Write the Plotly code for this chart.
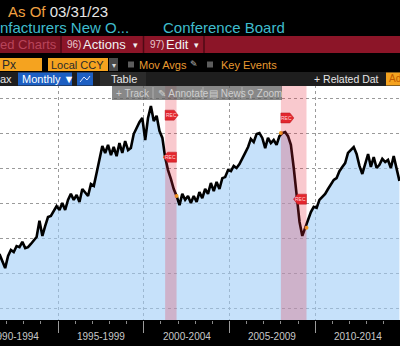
import plotly.graph_objects as go
import pandas as pd

# ---------------- data ----------------
start_month = '1991-08-01'   # bi-monthly observations
values = [
    115.4, 113.1, 111.4, 114.9, 116.6, 116.0, 117.7, 117.4, 118.9, 117.1,
    117.4, 118.3, 119.4, 120.3, 124.9, 120.6, 123.4, 126.0, 126.3, 127.7,
    129.1, 128.0, 130.0, 128.0, 130.9, 132.6, 130.9, 132.3, 130.3, 134.0,
    133.1, 132.0, 135.4, 134.9, 138.6, 142.3, 146.3, 144.3, 146.6, 143.7,
    146.0, 143.4, 147.1, 144.3, 147.7, 145.1, 145.7, 149.7, 151.4, 153.1,
    154.3, 148.0, 154.3, 157.7, 153.4, 154.9, 150.6, 148.6, 143.1, 139.4,
    136.9, 134.0, 132.0, 129.4, 132.6, 130.9, 132.0, 130.0, 132.0, 130.3,
    133.1, 131.4, 134.0, 132.6, 135.7, 133.4, 136.0, 134.0, 137.1, 137.4,
    139.4, 139.1, 140.6, 140.0, 141.1, 142.9, 144.3, 146.0, 148.3, 147.4,
    149.7, 150.0, 148.6, 145.7, 148.6, 147.1, 148.0, 146.6, 149.1, 150.0,
    150.3, 149.1, 146.6, 140.0, 132.0, 124.6, 120.6, 122.9, 125.7, 127.4,
    128.9, 128.6, 130.9, 131.7, 132.6, 134.0, 135.4, 136.6, 137.1, 139.1,
    140.3, 141.4, 144.3, 145.1, 146.0, 144.0, 140.6, 138.3, 141.1, 144.0,
    140.3, 143.1, 140.0, 140.9, 142.6, 141.7, 142.3, 140.0, 143.4, 139.4,
    136.3,
]
rec_start = ['2001-04-01', '2008-01-01']
rec_end = ['2001-11-30', '2009-06-30']
flag_top_levels = [155.1, 154.3]
flag_low_levels = [143.1, 131.1]

period_labels = ['1990-1994', '1995-1999', '2000-2004', '2005-2009', '2010-2014']
period_mid = ['1992-07-02', '1997-07-02', '2002-07-02', '2007-07-02', '2012-07-02']

x_range = ['1991-08-13', '2014-12-13']
y_range = [96.571, 163.714]

dates = pd.date_range(start=start_month, periods=len(values), freq='2MS')
series = pd.Series(values, index=dates)

# ---------------- layout helpers ----------------
W, H = 400, 346
T, B = 85, 26


def PX(x):
    return x / W


def PY(y):
    return (H - B - y) / (H - T - B)


FONT = 'Liberation Sans, Arial, sans-serif'

fig = go.Figure()

fig.add_trace(go.Scatter(
    x=dates, y=values, mode='lines',
    line=dict(color='#000000', width=2.6),
    fill='tozeroy', fillcolor='rgba(160,205,247,0.6)',
    hoverinfo='skip', showlegend=False,
))

# orange dots at recession boundaries
pts = pd.to_datetime(rec_start + rec_end)
near = series.reindex(pts, method='nearest')
fig.add_trace(go.Scatter(
    x=pts, y=near.values, mode='markers',
    marker=dict(color='#f0a020', size=4),
    hoverinfo='skip', showlegend=False,
))

shapes = []
ann = []

# recession shading
for s, e in zip(rec_start, rec_end):
    shapes.append(dict(type='rect', xref='x', yref='paper', x0=s, x1=e, y0=0, y1=1,
                       fillcolor='rgba(230,40,60,0.25)', line=dict(width=0), layer='above'))

# REC flags
for d, lv in zip(rec_start, flag_top_levels):
    shapes.append(dict(type='path', xref='x', yref='y', xsizemode='pixel', ysizemode='pixel',
                       xanchor=d, yanchor=lv, path='M0,-5 L9,-5 L13,0 L9,5 L0,5 Z',
                       fillcolor='#e3262e', line=dict(color='#b51a22', width=0.5), layer='above'))
    ann.append(dict(x=d, y=lv, xref='x', yref='y', text='REC', showarrow=False, xshift=6,
                    font=dict(size=5, color='#ffd6d6', family=FONT)))
for d, lv in zip(rec_end, flag_low_levels):
    shapes.append(dict(type='path', xref='x', yref='y', xsizemode='pixel', ysizemode='pixel',
                       xanchor=d, yanchor=lv, path='M0,-5 L-9,-5 L-13,0 L-9,5 L0,5 Z',
                       fillcolor='#e3262e', line=dict(color='#b51a22', width=0.5), layer='above'))
    ann.append(dict(x=d, y=lv, xref='x', yref='y', text='REC', showarrow=False, xshift=-6,
                    font=dict(size=5, color='#ffd6d6', family=FONT)))


def rect(x0, y0, x1, y1, color, line=None):
    shapes.append(dict(type='rect', xref='paper', yref='paper',
                       x0=PX(x0), x1=PX(x1), y0=PY(y1), y1=PY(y0),
                       fillcolor=color, line=line or dict(width=0), layer='above'))


def vline(x, y0, y1, color, width=1):
    shapes.append(dict(type='line', xref='paper', yref='paper',
                       x0=PX(x), x1=PX(x), y0=PY(y1), y1=PY(y0),
                       line=dict(color=color, width=width), layer='above'))


def text(x, y, s, size, color, family=FONT, anchor='left'):
    ann.append(dict(x=PX(x), y=PY(y), xref='paper', yref='paper', text=s, showarrow=False,
                    xanchor=anchor, yanchor='middle', borderpad=0,
                    font=dict(size=size, color=color, family=family)))


# row 1 / row 2
text(7, 11, '<span style="color:#f0a040">As Of</span> 03/31/23', 15, '#e6e6e6')
text(-1, 28, 'nfacturers New O...', 15, '#3fbccd')
text(162, 28, 'Conference Board', 15, '#3fbccd')

# row 3 red bar
rect(0, 36, 400, 53, '#8c1528')
rect(0, 36, 60, 53, '#7e1424')
text(-1, 44.5, 'ed Charts', 13, '#b9445a')
vline(61, 36, 53, '#4e0a14', 1.5)
text(66, 44.5, '96)', 10, '#e8c8cc')
text(82, 44.5, 'Actions', 13, '#f2f2f2')
text(132, 45, '▾', 9, '#f2f2f2')
vline(143.5, 36, 53, '#4e0a14', 1.5)
text(149, 44.5, '97)', 10, '#e8c8cc')
text(165, 44.5, 'Edit', 13, '#f2f2f2')
text(193, 45, '▾', 9, '#f2f2f2')
vline(204, 36, 53, '#4e0a14', 1.5)

# row 4
rect(0, 58, 42, 71, '#f5a31f')
text(1, 64.5, 'Px', 12, '#2a2a2a')
rect(48, 58, 108, 71, '#f5a31f')
text(50, 64.5, 'Local CCY', 11, '#2a2a2a')
rect(109, 58, 118, 71, '#4a4a4a')
text(110.5, 65, '▾', 8, '#dddddd')
rect(128, 61.5, 134, 67.5, '#5c5c5c')
text(138, 64.5, 'Mov Avgs', 11, '#e89a30')
text(189, 64, '✎', 9, '#bbbbbb', family='DejaVu Sans')
rect(207, 61.5, 213, 67.5, '#5c5c5c')
text(220, 64.5, 'Key Events', 11, '#e89a30')

# row 5
rect(0, 72, 400, 86, '#1e1e1e')
rect(100, 72, 146, 86, '#2b2b2b')
text(-1, 79, 'ax', 11, '#e6e6e6')
rect(18, 72.5, 72, 85.5, '#1d5fc2')
text(21, 79, 'Monthly ▼', 11, '#ffffff')
rect(77, 72.5, 93, 85.5, '#1d5fc2')
shapes.append(dict(type='path', xref='paper', yref='paper', layer='above',
                   path='M {:.4f},{:.4f} L {:.4f},{:.4f} L {:.4f},{:.4f} L {:.4f},{:.4f}'.format(
                       PX(80), PY(82), PX(84), PY(77), PX(87), PY(80), PX(90), PY(76)),
                   line=dict(color='#dfe8ff', width=1)))
text(110, 79, 'Table', 11, '#e6e6e6')
text(313, 79, '+ Related Dat', 10.5, '#e6e6e6')
rect(386, 72.5, 400, 85.5, '#f5a31f')
text(388, 79, 'Ad', 10, '#c05a00')

# overlay toolbar inside the plot
rect(112, 86, 282, 100, 'rgba(90,90,90,0.72)')
text(115, 93, '+ Track', 10, '#cfcfcf')
vline(153, 87, 99, 'rgba(200,200,200,0.6)')
text(157, 93, '✎ Annotate', 10, '#cfcfcf')
vline(203, 87, 99, 'rgba(200,200,200,0.6)')
text(208, 93, '▤ News', 10, '#cfcfcf')
vline(242, 87, 99, 'rgba(200,200,200,0.6)')
text(246, 93, '⚲ Zoom', 10, '#cfcfcf')

# bottom period labels
for d, lab in zip(period_mid, period_labels):
    ann.append(dict(x=d, y=PY(336), xref='x', yref='paper', text=lab, showarrow=False,
                    xanchor='center', yanchor='middle',
                    font=dict(size=10, color='#c8c8c8',
                              family='Liberation Sans Narrow, Arial Narrow, Liberation Sans')))

fig.update_layout(
    width=W, height=H, autosize=False,
    margin=dict(l=0, r=0, t=T, b=B, pad=0),
    paper_bgcolor='#000000', plot_bgcolor='#ffffff',
    shapes=shapes, annotations=ann, showlegend=False,
    xaxis=dict(type='date', range=x_range, showgrid=True, gridcolor='#9a9a9a', griddash='dot',
               gridwidth=1, tick0='1990-01-01', dtick='M60', ticks='outside', ticklen=12,
               tickcolor='#9a9a9a', tickwidth=1, showticklabels=False, zeroline=False,
               showline=False, fixedrange=True,
               minor=dict(tick0='1990-01-01', dtick='M12', ticks='outside', ticklen=3,
                          tickcolor='#8a8a8a', showgrid=False)),
    yaxis=dict(range=y_range, tick0=100, dtick=10, showgrid=True, gridcolor='#9a9a9a',
               griddash='dot', gridwidth=1, showticklabels=False, zeroline=False,
               showline=False, ticks='', fixedrange=True),
)

fig.write_html('out.html')
